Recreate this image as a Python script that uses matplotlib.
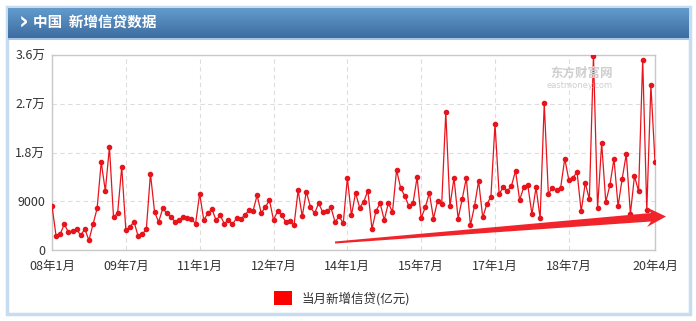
import numpy as np
import matplotlib
matplotlib.use('Agg')
import matplotlib.pyplot as plt
from matplotlib.patches import Rectangle, Polygon, Patch
from matplotlib.ticker import FixedLocator

plt.rcParams['font.family'] = ['Noto Sans CJK SC', 'DejaVu Sans']

# monthly new loans (亿元), 2008-01 .. 2020-04
loans_2008 = [8120, 2530, 2950, 4740, 3320, 3500, 3820, 2710, 3880, 1790, 4740, 7690]
loans_2009 = [16240, 10890, 19010, 6030, 6830, 15320, 3690, 4250, 5230, 2520, 2890, 3880]
loans_2010 = [14090, 7010, 5170, 7690, 6770, 6030, 5230, 5480, 6030, 5900, 5720, 4860]
loans_2011 = [10400, 5540, 6770, 7570, 5480, 6400, 4860, 5540, 4740, 5900, 5720, 6400]
loans_2012 = [7380, 7200, 10090, 6830, 7880, 9230, 5540, 7200, 6400, 5170, 5290, 4550]
loans_2013 = [11020, 6210, 10770, 7940, 6770, 8610, 7010, 7130, 7880, 5170, 6210, 4920]
loans_2014 = [13290, 6400, 10520, 7820, 8920, 10950, 3880, 7260, 8610, 5540, 8670, 7010]
loans_2015 = [14770, 11440, 9970, 8120, 8610, 13410, 5900, 7880, 10520, 5790, 9050, 8430]
loans_2016 = [25420, 8060, 13290, 5790, 9420, 13290, 4550, 8120, 12740, 6030, 8430, 9850]
loans_2017 = [23260, 10340, 11570, 10890, 11810, 14650, 9230, 11570, 11940, 6580, 11570, 5850]
loans_2018 = [27070, 10340, 11510, 11020, 11510, 16860, 12920, 13350, 14400, 7140, 12370, 9350]
loans_2019 = [35810, 7690, 19750, 8860, 11940, 16860, 8060, 13170, 17720, 6650, 13660, 10830]
loans_2020 = [35080, 7320, 30460, 16190]

values = (loans_2008 + loans_2009 + loans_2010 + loans_2011 + loans_2012 + loans_2013
          + loans_2014 + loans_2015 + loans_2016 + loans_2017 + loans_2018 + loans_2019
          + loans_2020)

xtick_pos = [0, 18, 36, 54, 72, 90, 108, 126, 147]
xtick_labels = ['08年1月', '09年7月', '11年1月', '12年7月', '14年1月', '15年7月',
                '17年1月', '18年7月', '20年4月']
ytick_pos = [0, 9000, 18000, 27000, 36000]
ytick_labels = ['0', '9000', '1.8万', '2.7万', '3.6万']

series_name = '当月新增信贷(亿元)'
title = '中国  新增信贷数据'

W, H = 696, 321
RED = '#e8141c'


def fx(px):
    return px / W


def fy(py):
    return 1 - py / H


fig = plt.figure(figsize=(W / 100, H / 100), dpi=100)
fig.patch.set_facecolor('white')

# panel frame
fig.patches.append(Rectangle((fx(7), fy(314)), fx(683), 307 / H, transform=fig.transFigure,
                             facecolor='white', edgecolor='#c6dcf1', lw=2.5, zorder=-5))

# header gradient
hax = fig.add_axes([fx(8), fy(38), fx(681), 30 / H])
grad = np.linspace(0, 1, 64).reshape(-1, 1)
top = np.array([0x63, 0x9b, 0xcd]) / 255
bot = np.array([0x3d, 0x6c, 0xa1]) / 255
img = top + (bot - top) * grad[..., None]
hax.imshow(img, aspect='auto', extent=[0, 1, 0, 1])
hax.set_axis_off()
fig.patches.append(Rectangle((fx(8), fy(40)), fx(681), 2 / H, transform=fig.transFigure,
                             facecolor='#a8c7e6', edgecolor='none', zorder=1))
fig.text(fx(19), fy(23), '\u203a', color='white', fontsize=17, fontweight='bold',
         va='center', ha='left', family='DejaVu Sans')
fig.text(fx(33), fy(22), title, color='white', fontsize=10.5, fontweight='bold',
         va='center', ha='left')

# main chart
ax = fig.add_axes([fx(52), fy(250), fx(603), 195 / H])
ax.patch.set_alpha(0)
x = np.arange(len(values))
ax.plot(x, values, color=RED, lw=0.9, marker='o', ms=3.0, mec=RED, mfc=RED, zorder=3,
        label=series_name)
ax.set_xlim(0, len(values) - 1)
ax.set_ylim(0, 36000)
ax.xaxis.set_major_locator(FixedLocator(xtick_pos))
ax.set_xticklabels(xtick_labels)
ax.yaxis.set_major_locator(FixedLocator(ytick_pos))
ax.set_yticklabels(ytick_labels)
ax.tick_params(axis='both', length=0, labelsize=9, colors='#333333')
ax.tick_params(axis='x', pad=7)
ax.tick_params(axis='y', pad=5)
ax.grid(True, color='#dddddd', ls=(0, (4, 3)), lw=0.8)
for s in ax.spines.values():
    s.set_color('#c8c8c8')
    s.set_linewidth(1)

# watermark
ax.text(0.93, 0.905, '东方财富网', transform=ax.transAxes, color='#cfcfcf', fontsize=9,
        ha='right', va='center', fontweight='bold')
ax.text(0.93, 0.845, 'eastmoney.com', transform=ax.transAxes, color='#cfcfcf', fontsize=6,
        ha='right', va='center', family='DejaVu Sans')

# trend arrow
arrow_px = [(335, 241.5), (651, 213), (647, 207.5), (666, 216.5), (647, 227),
            (651, 221.5), (335, 243.5)]
arrow = Polygon([(fx(a), fy(b)) for a, b in arrow_px], closed=True, transform=fig.transFigure,
                facecolor='#f0242a', edgecolor='none', zorder=5)
fig.patches.append(arrow)

# legend
fig.legend(handles=[Patch(facecolor='#ff0000', edgecolor='none', label=series_name)],
           loc='center', bbox_to_anchor=(fx(342), fy(298)), frameon=False,
           handlelength=1.45, handleheight=1.4, handletextpad=0.8, fontsize=9,
           labelcolor='#333333')

fig.savefig('out.png', dpi=100, facecolor='white')
